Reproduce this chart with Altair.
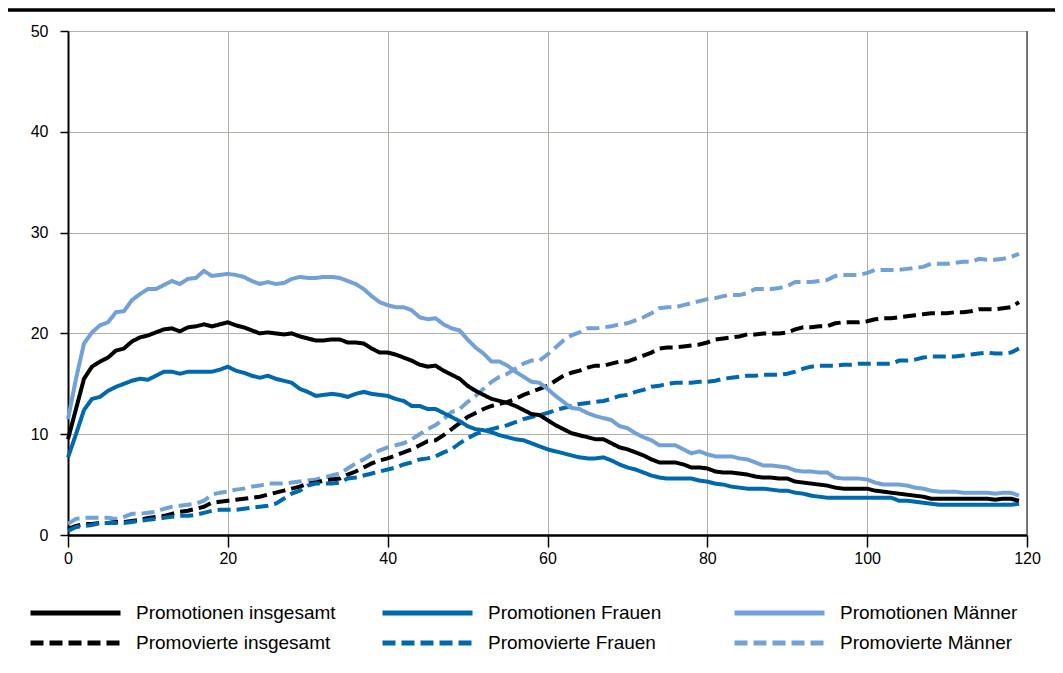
import altair as alt
import pandas as pd

x_vals = list(range(120))

promotionen_insgesamt = [
    9.5, 12.5, 15.5, 16.7, 17.2, 17.6, 18.3, 18.5, 19.2, 19.6,
    19.8, 20.1, 20.4, 20.5, 20.2, 20.6, 20.7, 20.9, 20.7, 20.9,
    21.1, 20.8, 20.6, 20.3, 20.0, 20.1, 20.0, 19.9, 20.0, 19.7,
    19.5, 19.3, 19.3, 19.4, 19.4, 19.1, 19.1, 19.0, 18.5, 18.1,
    18.1, 17.9, 17.6, 17.3, 16.9, 16.7, 16.8, 16.3, 15.9, 15.5,
    14.8, 14.3, 13.9, 13.5, 13.3, 13.1, 12.8, 12.4, 12.0, 11.9,
    11.4, 10.9, 10.5, 10.1, 9.9, 9.7, 9.5, 9.5, 9.1, 8.7,
    8.5, 8.2, 7.9, 7.5, 7.2, 7.2, 7.2, 7.0, 6.7, 6.7,
    6.6, 6.3, 6.2, 6.2, 6.1, 6.0, 5.8, 5.7, 5.7, 5.6,
    5.6, 5.3, 5.2, 5.1, 5.0, 4.9, 4.7, 4.6, 4.6, 4.6,
    4.6, 4.4, 4.3, 4.2, 4.1, 4.0, 3.9, 3.8, 3.6, 3.6,
    3.6, 3.6, 3.6, 3.6, 3.6, 3.6, 3.5, 3.6, 3.6, 3.4,
]

promotionen_frauen = [
    7.7, 10.0, 12.4, 13.5, 13.7, 14.3, 14.7, 15.0, 15.3, 15.5,
    15.4, 15.8, 16.2, 16.2, 16.0, 16.2, 16.2, 16.2, 16.2, 16.4,
    16.7, 16.3, 16.1, 15.8, 15.6, 15.8, 15.5, 15.3, 15.1, 14.5,
    14.2, 13.8, 13.9, 14.0, 13.9, 13.7, 14.0, 14.2, 14.0, 13.9,
    13.8, 13.5, 13.3, 12.8, 12.8, 12.5, 12.5, 12.1, 11.7, 11.3,
    10.8, 10.5, 10.4, 10.2, 9.9, 9.7, 9.5, 9.4, 9.1, 8.8,
    8.5, 8.3, 8.1, 7.9, 7.7, 7.6, 7.6, 7.7, 7.4, 7.0,
    6.7, 6.5, 6.2, 5.9, 5.7, 5.6, 5.6, 5.6, 5.6, 5.4,
    5.3, 5.1, 5.0, 4.8, 4.7, 4.6, 4.6, 4.6, 4.5, 4.4,
    4.4, 4.2, 4.1, 3.9, 3.8, 3.7, 3.7, 3.7, 3.7, 3.7,
    3.7, 3.7, 3.7, 3.7, 3.4, 3.4, 3.3, 3.2, 3.1, 3.0,
    3.0, 3.0, 3.0, 3.0, 3.0, 3.0, 3.0, 3.0, 3.0, 3.1,
]

promotionen_maenner = [
    11.5, 15.5, 19.0, 20.1, 20.8, 21.1, 22.1, 22.2, 23.3, 23.9,
    24.4, 24.4, 24.8, 25.2, 24.9, 25.4, 25.5, 26.2, 25.7, 25.8,
    25.9, 25.8, 25.6, 25.2, 24.9, 25.1, 24.9, 25.0, 25.4, 25.6,
    25.5, 25.5, 25.6, 25.6, 25.5, 25.2, 24.9, 24.4, 23.7, 23.1,
    22.8, 22.6, 22.6, 22.3, 21.6, 21.4, 21.5, 20.9, 20.5, 20.3,
    19.4, 18.6, 18.0, 17.2, 17.2, 16.8, 16.2, 15.7, 15.2, 15.1,
    14.5, 13.8, 13.2, 12.6, 12.5, 12.1, 11.8, 11.6, 11.4, 10.8,
    10.6, 10.1, 9.7, 9.4, 8.9, 8.9, 8.9, 8.5, 8.1, 8.3,
    8.0, 7.8, 7.8, 7.8, 7.6, 7.5, 7.2, 6.9, 6.9, 6.8,
    6.7, 6.4, 6.3, 6.3, 6.2, 6.2, 5.7, 5.6, 5.6, 5.6,
    5.5, 5.2, 5.0, 5.0, 5.0, 4.9, 4.7, 4.6, 4.4, 4.3,
    4.3, 4.3, 4.2, 4.2, 4.2, 4.2, 4.1, 4.2, 4.2, 3.9,
]

promovierte_insgesamt = [
    0.6, 0.9, 1.1, 1.1, 1.2, 1.2, 1.3, 1.3, 1.4, 1.5,
    1.7, 1.8, 1.9, 2.1, 2.3, 2.4, 2.6, 2.8, 3.2, 3.3,
    3.4, 3.5, 3.6, 3.7, 3.8, 4.0, 4.2, 4.4, 4.6, 4.8,
    5.1, 5.2, 5.4, 5.5, 5.6, 6.0, 6.3, 6.7, 7.1, 7.4,
    7.6, 7.9, 8.2, 8.5, 8.9, 9.3, 9.4, 9.9, 10.5, 11.1,
    11.7, 12.1, 12.5, 12.8, 13.0, 13.2, 13.5, 13.9, 14.2, 14.5,
    14.8, 15.3, 15.8, 16.1, 16.3, 16.6, 16.8, 16.8, 17.0, 17.2,
    17.2, 17.5, 17.8, 18.1, 18.5, 18.6, 18.6, 18.7, 18.8, 18.9,
    19.1, 19.4, 19.5, 19.6, 19.7, 19.9, 19.9, 20.0, 20.0, 20.0,
    20.1, 20.4, 20.6, 20.6, 20.7, 20.7, 21.0, 21.1, 21.1, 21.1,
    21.2, 21.4, 21.5, 21.5, 21.6, 21.7, 21.8, 21.9, 22.0, 22.0,
    22.0, 22.1, 22.1, 22.2, 22.4, 22.4, 22.4, 22.5, 22.6, 23.1,
]

promovierte_frauen = [
    0.4, 0.8, 0.9, 1.0, 1.2, 1.2, 1.2, 1.2, 1.3, 1.4,
    1.5, 1.6, 1.7, 1.8, 1.9, 1.9, 2.0, 2.2, 2.4, 2.5,
    2.5, 2.5, 2.6, 2.7, 2.8, 2.9, 3.1, 3.6, 4.1, 4.4,
    4.9, 5.1, 5.1, 5.1, 5.2, 5.6, 5.7, 5.9, 6.1, 6.3,
    6.5, 6.7, 7.0, 7.2, 7.5, 7.6, 7.8, 8.2, 8.5, 9.1,
    9.6, 10.0, 10.3, 10.5, 10.7, 10.9, 11.2, 11.5, 11.7, 11.9,
    12.1, 12.4, 12.6, 12.8, 13.0, 13.1, 13.2, 13.3, 13.5, 13.8,
    13.9, 14.2, 14.4, 14.7, 14.8, 15.0, 15.1, 15.1, 15.1, 15.2,
    15.2, 15.3, 15.5, 15.6, 15.7, 15.8, 15.8, 15.9, 15.9, 15.9,
    16.0, 16.2, 16.5, 16.7, 16.8, 16.8, 16.8, 16.9, 16.9, 17.0,
    17.0, 17.0, 17.0, 17.0, 17.3, 17.3, 17.4, 17.6, 17.7, 17.7,
    17.7, 17.7, 17.8, 17.9, 18.0, 18.1, 18.0, 18.0, 18.1, 18.5,
]

promovierte_maenner = [
    1.1, 1.6, 1.7, 1.7, 1.7, 1.7, 1.6, 1.8, 2.1, 2.1,
    2.2, 2.3, 2.6, 2.8, 2.9, 3.0, 3.1, 3.4, 4.0, 4.2,
    4.3, 4.5, 4.6, 4.8, 4.9, 5.1, 5.1, 5.1, 5.2, 5.3,
    5.4, 5.5, 5.7, 5.9, 6.1, 6.6, 7.1, 7.5, 8.0, 8.4,
    8.7, 8.9, 9.1, 9.5, 10.0, 10.5, 10.9, 11.5, 12.2, 12.5,
    13.2, 13.8, 14.5, 15.2, 15.7, 16.0, 16.5, 17.0, 17.3, 17.3,
    17.9, 18.6, 19.3, 19.8, 20.1, 20.5, 20.5, 20.6, 20.7, 20.9,
    21.0, 21.3, 21.6, 22.0, 22.5, 22.6, 22.6, 22.8, 23.0, 23.2,
    23.4, 23.5, 23.7, 23.8, 23.8, 24.0, 24.4, 24.4, 24.4, 24.5,
    24.7, 25.1, 25.1, 25.1, 25.2, 25.3, 25.7, 25.8, 25.8, 25.8,
    26.0, 26.3, 26.3, 26.3, 26.3, 26.4, 26.5, 26.6, 26.9, 26.9,
    26.9, 27.0, 27.1, 27.1, 27.4, 27.3, 27.3, 27.4, 27.6, 27.9,
]

# legend order (filled column by column: two rows per column)
names = [
    "Promotionen insgesamt", "Promovierte insgesamt",
    "Promotionen Frauen", "Promovierte Frauen",
    "Promotionen Männer", "Promovierte Männer",
]
colors = ["#000000", "#000000", "#0068ad", "#0068ad", "#72a1d7", "#72a1d7"]
dashes = [[1, 0], [13, 6], [1, 0], [13, 6], [1, 0], [13, 6]]

series_data = {
    "Promotionen insgesamt": promotionen_insgesamt,
    "Promotionen Frauen": promotionen_frauen,
    "Promotionen Männer": promotionen_maenner,
    "Promovierte insgesamt": promovierte_insgesamt,
    "Promovierte Frauen": promovierte_frauen,
    "Promovierte Männer": promovierte_maenner,
}
draw_order = [
    "Promovierte Männer", "Promovierte insgesamt", "Promovierte Frauen",
    "Promotionen Männer", "Promotionen Frauen", "Promotionen insgesamt",
]

rows = []
for name in draw_order:
    for xv, yv in zip(x_vals, series_data[name]):
        rows.append({"x": xv, "y": yv, "series": name})
df = pd.DataFrame(rows)

FONT = "Liberation Sans"

legend = alt.Legend(
    title=None, orient="none", legendX=-40, legendY=570, columns=3,
    symbolType="stroke", symbolSize=8100, symbolStrokeWidth=5,
    clipHeight=24, rowPadding=6, columnPadding=44, gridAlign="all",
    labelFont=FONT, labelFontSize=19, labelColor="#000000",
    labelOffset=13, labelLimit=400, padding=0,
)

x_axis = alt.Axis(
    values=[0, 20, 40, 60, 80, 100, 120], title=None, grid=True,
    gridColor="#b3afa7", gridWidth=1, domainColor="#000000", domainWidth=2.5,
    tickColor="#000000", tickSize=12, tickWidth=1.5, labelFont=FONT,
    labelFontSize=16, labelColor="#000000", labelPadding=3, labelFlush=False,
)
y_axis = alt.Axis(
    values=[0, 10, 20, 30, 40, 50], title=None, grid=True,
    gridColor="#b3afa7", gridWidth=1, domainColor="#000000", domainWidth=2,
    tickColor="#000000", tickSize=8, tickWidth=1.5, labelFont=FONT,
    labelFontSize=16, labelColor="#000000", labelPadding=12,
)

lines = alt.Chart(df).mark_line(strokeWidth=4, strokeCap="butt").encode(
    x=alt.X("x:Q", scale=alt.Scale(domain=[0, 120], nice=False), axis=x_axis),
    y=alt.Y("y:Q", scale=alt.Scale(domain=[0, 50], nice=False), axis=y_axis),
    color=alt.Color("series:N", scale=alt.Scale(domain=names, range=colors), legend=legend),
    strokeDash=alt.StrokeDash("series:N", scale=alt.Scale(domain=names, range=dashes), legend=legend),
)

border = alt.Chart(pd.DataFrame({"x": [120]})).mark_rule(
    color="#555555", strokeWidth=1.5
).encode(x="x:Q", y=alt.value(0), y2=alt.value(504))

top_line = alt.Chart(pd.DataFrame({"a": [0]})).mark_rule(
    color="#000000", strokeWidth=3.5
).encode(x=alt.value(-60), x2=alt.value(987), y=alt.value(-21))

chart = alt.layer(lines, border, top_line).properties(
    width=959, height=504,
    autosize=alt.AutoSizeParams(type="none"),
    padding={"left": 60, "top": 23, "right": 28, "bottom": 120},
).configure_view(stroke=None)

chart.save("out.html", embed_options={"renderer": "svg", "actions": False})
